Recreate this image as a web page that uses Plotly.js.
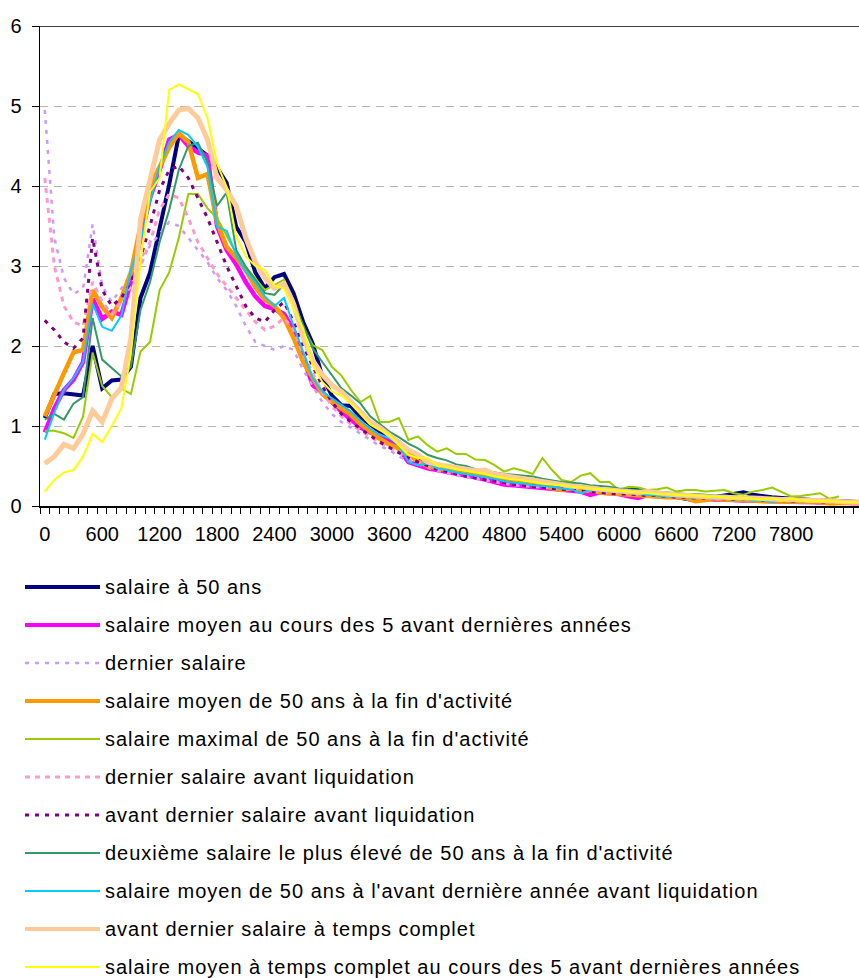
<!DOCTYPE html>
<html>
<head>
<meta charset="utf-8">
<script src="https://cdn.plot.ly/plotly-3.0.1.min.js"></script>
<style>
  html, body { margin: 0; padding: 0; background: #fff; }
  #chart { width: 859px; height: 978px; }
  .annotation-text { letter-spacing: 1px; }
</style>
</head>
<body>
<div id="chart"></div>
<script>
// Wage classes: one category per 100, from 0 upward
const binStep = 100;
const tickLabels = ["0","600","1200","1800","2400","3000","3600","4200","4800","5400","6000","6600","7200","7800"];

const seriesNames = [
  "salaire à 50 ans",
  "salaire moyen au cours des 5 avant dernières années",
  "dernier salaire",
  "salaire moyen de 50 ans à la fin d'activité",
  "salaire maximal de 50 ans à la fin d'activité",
  "dernier salaire avant liquidation",
  "avant dernier salaire avant liquidation",
  "deuxième salaire le plus élevé de 50 ans à la fin d'activité",
  "salaire moyen de 50 ans à l'avant dernière année avant liquidation",
  "avant dernier salaire à temps complet",
  "salaire moyen à temps complet au cours des 5 avant dernières années"
];

const salaire50 = [
  1.10,1.40,1.41,1.40,1.38,2.00,1.47,1.57,1.58,1.74,
  2.60,2.92,3.45,4.02,4.63,4.56,4.47,4.38,4.23,4.04,
  3.49,3.30,2.92,2.72,2.86,2.90,2.66,2.30,2.03,1.62,
  1.38,1.26,1.25,1.10,1.02,0.93,0.80,0.80,0.64,0.62,
  0.52,0.48,0.47,0.45,0.43,0.40,0.38,0.34,0.31,0.30,
  0.30,0.27,0.26,0.25,0.22,0.21,0.20,0.18,0.17,0.17,
  0.16,0.20,0.21,0.17,0.15,0.12,0.10,0.08,0.07,0.09,
  0.11,0.13,0.15,0.17,0.14,0.12,0.11,0.10,0.09,0.09,
  0.08,0.07,0.07,0.06,0.06,0.05,0.05
];
const moyen5 = [
  0.92,1.22,1.45,1.58,1.80,2.59,2.34,2.43,2.39,2.80,
  3.35,3.85,4.20,4.58,4.64,4.50,4.42,4.38,3.50,3.20,
  3.02,2.80,2.62,2.50,2.46,2.40,2.20,1.87,1.51,1.42,
  1.30,1.18,1.08,0.98,0.92,0.88,0.80,0.72,0.55,0.51,
  0.47,0.45,0.43,0.40,0.38,0.36,0.33,0.30,0.27,0.26,
  0.25,0.23,0.23,0.22,0.20,0.19,0.18,0.14,0.17,0.16,
  0.15,0.12,0.10,0.14,0.13,0.12,0.11,0.10,0.09,0.09,
  0.08,0.08,0.07,0.07,0.07,0.06,0.06,0.06,0.05,0.05,
  0.05,0.04,0.04,0.04,0.04,0.03,0.03
];
const dernier = [
  4.95,3.35,2.85,2.65,2.72,3.52,2.75,2.55,2.72,2.90,
  3.10,3.25,3.40,3.55,3.50,3.35,3.20,3.05,2.85,2.70,
  2.50,2.25,2.05,2.00,1.95,2.00,1.95,1.70,1.50,1.30,
  1.15,1.05,0.98,0.90,0.82,0.75,0.70,0.62,0.56,0.52,
  0.48,0.44,0.41,0.38,0.36,0.34,0.32,0.30,0.28,0.26,
  0.25,0.24,0.23,0.22,0.21,0.20,0.19,0.18,0.17,0.16,
  0.15,0.15,0.14,0.13,0.13,0.12,0.11,0.11,0.10,0.10,
  0.09,0.09,0.08,0.08,0.08,0.07,0.07,0.07,0.06,0.06,
  0.06,0.05,0.05,0.05,0.05,0.04,0.04
];
const moyen50fin = [
  1.12,1.40,1.66,1.92,1.95,2.70,2.49,2.35,2.60,2.92,
  3.50,4.00,4.24,4.48,4.66,4.55,4.10,4.15,3.55,3.24,
  3.10,2.95,2.74,2.58,2.50,2.35,2.10,1.80,1.60,1.40,
  1.30,1.22,1.14,1.02,0.93,0.84,0.77,0.72,0.64,0.56,
  0.50,0.47,0.45,0.44,0.43,0.40,0.38,0.36,0.34,0.32,
  0.31,0.30,0.28,0.22,0.20,0.22,0.18,0.20,0.17,0.16,
  0.15,0.15,0.14,0.13,0.12,0.11,0.11,0.10,0.06,0.08,
  0.09,0.08,0.08,0.07,0.07,0.06,0.06,0.06,0.05,0.05,
  0.05,0.05,0.03,0.04,0.04,0.04,0.03
];
const maximal50fin = [
  0.94,0.94,0.91,0.85,1.12,1.92,1.50,1.36,1.47,1.40,
  1.93,2.05,2.70,2.92,3.35,3.90,3.90,3.72,3.60,3.38,
  3.16,2.99,2.85,2.70,2.76,2.83,2.58,2.24,2.01,1.95,
  1.74,1.63,1.45,1.30,1.375,1.05,1.05,1.10,0.825,0.87,
  0.76,0.68,0.72,0.65,0.65,0.58,0.575,0.51,0.43,0.47,
  0.44,0.40,0.60,0.45,0.325,0.30,0.38,0.41,0.30,0.30,
  0.20,0.24,0.23,0.20,0.21,0.23,0.18,0.20,0.20,0.18,
  0.19,0.20,0.16,0.14,0.18,0.20,0.23,0.18,0.12,0.125,
  0.14,0.16,0.09,0.12
];
const dernierAvLiq = [
  4.10,3.00,2.50,2.30,2.25,2.80,2.55,2.40,2.55,2.75,
  3.00,3.30,3.70,3.90,3.85,3.60,3.30,3.10,2.90,2.75,
  2.60,2.45,2.30,2.20,2.25,2.35,2.20,1.90,1.65,1.42,
  1.25,1.12,1.02,0.94,0.86,0.79,0.73,0.66,0.60,0.55,
  0.50,0.46,0.43,0.40,0.38,0.36,0.34,0.31,0.29,0.27,
  0.26,0.25,0.24,0.23,0.22,0.21,0.20,0.19,0.18,0.17,
  0.16,0.16,0.15,0.14,0.14,0.13,0.12,0.12,0.11,0.11,
  0.10,0.10,0.09,0.09,0.08,0.08,0.08,0.07,0.07,0.07,
  0.06,0.06,0.06,0.05,0.05,0.05,0.05
];
const avDernierAvLiq = [
  2.32,2.20,2.05,1.97,2.10,3.35,2.70,2.50,2.60,2.80,
  3.10,3.50,3.95,4.20,4.25,4.10,3.85,3.60,3.30,3.00,
  2.75,2.50,2.35,2.30,2.45,2.55,2.30,2.00,1.75,1.50,
  1.30,1.15,1.05,0.96,0.88,0.80,0.73,0.66,0.60,0.55,
  0.50,0.46,0.43,0.40,0.37,0.35,0.33,0.31,0.29,0.27,
  0.26,0.24,0.23,0.22,0.21,0.20,0.19,0.18,0.17,0.16,
  0.15,0.15,0.14,0.13,0.13,0.12,0.11,0.11,0.10,0.10,
  0.09,0.09,0.08,0.08,0.08,0.07,0.07,0.07,0.06,0.06,
  0.06,0.05,0.05,0.05,0.05,0.04,0.04
];
const deuxieme50fin = [
  1.08,1.15,1.08,1.28,1.36,2.35,1.83,1.73,1.62,1.74,
  2.45,2.80,3.30,3.70,4.20,4.50,4.54,4.30,3.75,3.92,
  3.20,2.99,2.83,2.66,2.64,2.77,2.55,2.25,1.97,1.80,
  1.63,1.47,1.38,1.28,1.12,1.02,0.93,0.86,0.78,0.72,
  0.64,0.60,0.57,0.52,0.50,0.46,0.44,0.42,0.40,0.39,
  0.38,0.37,0.34,0.32,0.30,0.29,0.28,0.26,0.25,0.24,
  0.22,0.21,0.20,0.19,0.18,0.17,0.16,0.15,0.15,0.14,
  0.13,0.13,0.12,0.11,0.11,0.10,0.10,0.09,0.09,0.08,
  0.08,0.07,0.07,0.07,0.06,0.06,0.06
];
const moyen50avDern = [
  0.83,1.17,1.45,1.60,1.80,2.53,2.24,2.19,2.38,2.95,
  3.30,3.80,4.25,4.55,4.70,4.64,4.49,4.24,3.49,3.44,
  3.14,2.93,2.80,2.62,2.50,2.60,2.25,1.93,1.60,1.43,
  1.35,1.26,1.18,1.07,0.97,0.89,0.85,0.76,0.55,0.51,
  0.53,0.47,0.45,0.42,0.40,0.38,0.36,0.34,0.31,0.29,
  0.28,0.26,0.25,0.24,0.22,0.21,0.16,0.20,0.19,0.18,
  0.17,0.16,0.15,0.14,0.13,0.12,0.12,0.11,0.10,0.10,
  0.09,0.09,0.08,0.08,0.07,0.07,0.05,0.07,0.06,0.06,
  0.05,0.06,0.05,0.05,0.05,0.04,0.04
];
const avDernierTC = [
  0.53,0.62,0.77,0.72,0.90,1.19,1.05,1.34,1.48,2.10,
  3.58,4.10,4.58,4.78,4.95,4.97,4.85,4.58,4.10,3.95,
  3.75,3.35,3.05,2.85,2.72,2.78,2.52,2.10,1.82,1.64,
  1.51,1.43,1.30,1.18,1.05,0.98,0.89,0.80,0.70,0.64,
  0.55,0.52,0.50,0.47,0.45,0.44,0.45,0.40,0.38,0.36,
  0.34,0.32,0.30,0.28,0.26,0.25,0.24,0.22,0.21,0.20,
  0.19,0.18,0.17,0.18,0.16,0.15,0.14,0.13,0.13,0.12,
  0.11,0.11,0.10,0.10,0.10,0.09,0.09,0.08,0.08,0.07,
  0.07,0.07,0.06,0.06,0.05,0.05,0.05
];
const moyenTC5 = [
  0.18,0.33,0.42,0.45,0.62,0.90,0.80,1.00,1.22,1.90,
  3.05,3.93,4.10,5.20,5.27,5.21,5.15,4.85,4.28,3.99,
  3.37,3.12,3.00,2.95,2.75,2.72,2.48,2.22,1.76,1.55,
  1.43,1.38,1.28,1.15,1.02,0.95,0.89,0.76,0.64,0.60,
  0.60,0.51,0.49,0.46,0.44,0.42,0.40,0.37,0.35,0.33,
  0.32,0.30,0.28,0.27,0.26,0.24,0.23,0.22,0.21,0.20,
  0.19,0.18,0.17,0.16,0.15,0.15,0.14,0.13,0.13,0.12,
  0.12,0.11,0.10,0.10,0.09,0.08,0.10,0.07,0.09,0.07,
  0.07,0.06,0.06,0.05,0.05,0.05,0.04
];

const seriesValues = [salaire50, moyen5, dernier, moyen50fin, maximal50fin,
  dernierAvLiq, avDernierAvLiq, deuxieme50fin, moyen50avDern, avDernierTC, moyenTC5];

const seriesColors = ["#000080","#FF00FF","#CC99FF","#FF9900","#99CC00",
  "#FF99CC","#800080","#339966","#00CCFF","#FFCC99","#FFFF00"];
const seriesWidths = [4, 4.5, 2.5, 4.5, 2, 3, 3, 2, 2, 5, 2];
const seriesDash = ["solid","solid","4px,6px","solid","solid",
  "5px,5px","4px,6px","solid","solid","solid","solid"];

// Page geometry (px)
const W = 859, H = 978;
const M = {l: 40, r: 0, t: 26, b: 472};
const plotW = W - M.l - M.r, plotH = H - M.t - M.b;
const FONT = "Liberation Sans, Arial, sans-serif";
const FS = 20;

const traces = seriesValues.map((vals, k) => ({
  type: "scatter",
  mode: "lines",
  name: seriesNames[k],
  x: vals.map((_, i) => i * binStep),
  y: vals,
  line: {color: seriesColors[k], width: seriesWidths[k], dash: seriesDash[k]},
  showlegend: false,
  hoverinfo: "skip"
}));

// Legend drawn below the plot: line sample + label per series
const pxToPaperX = px => (px - M.l) / plotW;
const pxToPaperY = py => (H - M.b - py) / plotH;
const legendTop = 587, legendStep = 38;
const shapes = [
  {type: "line", xref: "paper", yref: "y", x0: 0, x1: 1, y0: 6, y1: 6,
   line: {color: "#000", width: 1.5}}
];
const annotations = [];
seriesNames.forEach((name, k) => {
  const py = legendTop + k * legendStep;
  shapes.push({type: "line", xref: "paper", yref: "paper",
    x0: pxToPaperX(25), x1: pxToPaperX(100), y0: pxToPaperY(py), y1: pxToPaperY(py),
    line: {color: seriesColors[k], width: Math.min(seriesWidths[k], 4), dash: seriesDash[k]}});
  annotations.push({xref: "paper", yref: "paper", x: pxToPaperX(103), y: pxToPaperY(py),
    xanchor: "left", yanchor: "middle", showarrow: false, text: name,
    font: {family: FONT, size: FS, color: "#000"}});
});

const tickVals = tickLabels.map(Number);

const layout = {
  width: W, height: H,
  margin: M,
  paper_bgcolor: "#fff", plot_bgcolor: "#fff",
  font: {family: FONT, size: FS, color: "#000"},
  showlegend: false,
  xaxis: {
    range: [-50, 8508],
    tickmode: "array", tickvals: tickVals, ticktext: tickLabels,
    ticks: "", showgrid: false, zeroline: false,
    showline: true, linecolor: "#000", linewidth: 1.5,
    ticklabelstandoff: 9,
    tickfont: {family: FONT, size: FS, color: "#000"},
    minor: {tickmode: "linear", tick0: -50, dtick: 100, ticks: "outside",
            ticklen: 6, tickcolor: "#000", tickwidth: 1, showgrid: false}
  },
  yaxis: {
    range: [0, 6], tickmode: "linear", tick0: 0, dtick: 1,
    ticks: "outside", ticklen: 7, tickcolor: "#000", tickwidth: 1,
    showline: true, linecolor: "#000", linewidth: 1.5,
    showgrid: true, gridcolor: "#b4b4b4", gridwidth: 1, griddash: "8px,6px",
    zeroline: false,
    ticklabelstandoff: 6,
    tickfont: {family: FONT, size: FS, color: "#000"}
  },
  shapes: shapes,
  annotations: annotations
};

Plotly.newPlot("chart", traces, layout, {staticPlot: true, displayModeBar: false});
</script>
</body>
</html>
